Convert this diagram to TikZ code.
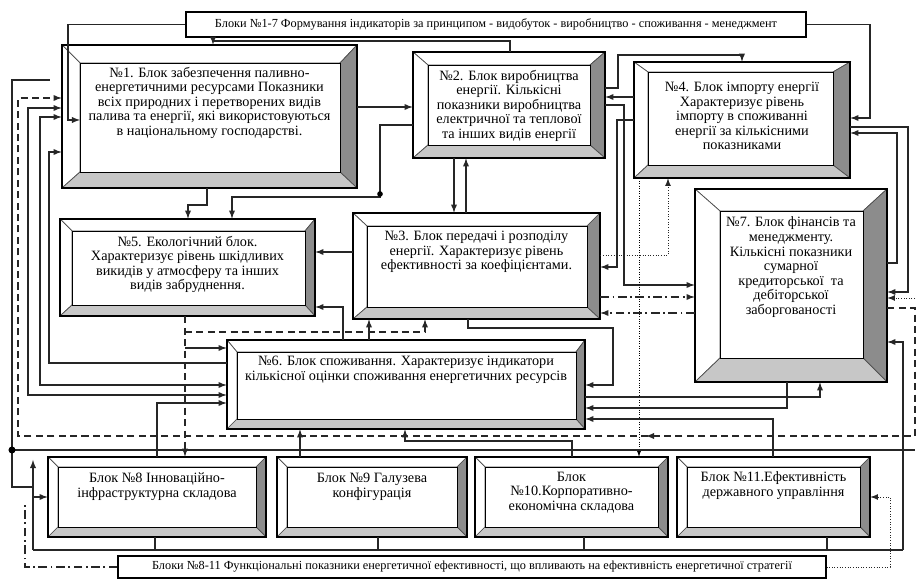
\documentclass[tikz,border=0pt]{standalone}
\usepackage{fontspec}
\setmainfont{Liberation Serif}
\usetikzlibrary{calc,arrows,fit}

\begin{document}
\begin{tikzpicture}[x=0.02cm,y=-0.02cm,>=latex,
    line/.style={line width=.6pt,draw=black!85},
    arr/.style={line,->},
    darr/.style={line,<->},
    dline/.style={line,dash pattern=on 4pt off 2.5pt},
    ddline/.style={line,dash pattern=on 5pt off 2pt on 1pt off 2pt},
    fdline/.style={line width=.5pt,draw=black!85,densely dotted},
    lite/.style={draw=black!70,line width=.4pt,fill=white},
    dark/.style={draw=black!70,line width=.4pt,fill=black!45},
    mid/.style={draw=black!70,line width=.4pt,fill=black!22},
    btext/.style={align=center,inner sep=0pt,font=\fontsize{8.1}{8.3}\selectfont},
    htext/.style={inner sep=0pt,font=\fontsize{7}{8}\selectfont},
    hbox/.style={draw,line width=.6pt,inner sep=0pt,fill=white}]

  \useasboundingbox (0,0) rectangle (917,580);

  %%%% Bevelled blocks %%%%
  \foreach \n/\xa/\ya/\xb/\yb/\lw/\tw/\rw/\bw in {
      b1/62/45/357/188/18/18/17/16, b2/413/52/605/158/15/13/15/13,
      b4/634/62/850/178/14/10/17/13, b5/60/219/315/316/12/12/10/11,
      b3/353/213/600/319/14/13/13/12, b7/695/189/887/382/25/22/24/24,
      b6/227/340/585/429/10/12/9/10, b8/48/457/266/537/10/10/10/10,
      b9/277/457/467/537/10/10/10/10, b10/475/457/668/537/10/10/10/10,
      b11/677/457/870/537/10/10/10/10}{
    %% top, left, right and bottom faces
    \filldraw[lite] (\xa,\ya) -- (\xb,\ya) -- (\xb-\rw,\ya+\tw) -- (\xa+\lw,\ya+\tw) -- cycle;
    \filldraw[lite] (\xa,\ya) -- (\xa+\lw,\ya+\tw) -- (\xa+\lw,\yb-\bw) -- (\xa,\yb) -- cycle;
    \filldraw[dark] (\xb,\ya) -- (\xb,\yb) -- (\xb-\rw,\yb-\bw) -- (\xb-\rw,\ya+\tw) -- cycle;
    \filldraw[mid] (\xa,\yb) -- (\xb,\yb) -- (\xb-\rw,\yb-\bw) -- (\xa+\lw,\yb-\bw) -- cycle;
    \filldraw[fill=white,line width=.5pt] (\xa+\lw,\ya+\tw) rectangle (\xb-\rw,\yb-\bw);
    \draw[line width=.7pt] (\xa,\ya) rectangle (\xb,\yb);
    %% name the block
    \coordinate (\n-nw) at (\xa,\ya);
    \coordinate (\n-se) at (\xb,\yb);
    \node[fit=(\n-nw)(\n-se),inner sep=0pt] (\n) {};
  }

  %% Header boxes
  \node[hbox,fit={(186,12)(806,37)}] (hdrA) {};
  \node[htext] (hdrAtxt) at (hdrA.center) {Блоки №1-7 Формування індикаторів за принципом - видобуток - виробництво - споживання - менеджмент};
  \node[hbox,fit={(118,556)(826,578)}] (hdrB) {};
  \node[htext] (hdrBtxt) at (hdrB.center) {Блоки №8-11 Функціональні показники енергетичної ефективності, що впливають на ефективність енергетичної стратегії};

  %% Block texts
  \node[btext,anchor=north] (t1) at ($(b1.north)+(0,22)$) {№1. Блок забезпечення паливно-\\енергетичними ресурсами Показники\\всіх природних і перетворених видів\\палива та енергії, які використовуються\\в національному господарстві.};
  \node[btext,anchor=north] (t2) at ($(b2.north)+(0,18)$) {№2. Блок виробництва\\енергії. Кількісні\\показники виробництва\\електричної та теплової\\та інших видів енергії};
  \node[btext,anchor=north] (t3) at ($(b3.north)+(0,18)$) {№3. Блок передачі і розподілу\\енергії. Характеризує рівень\\ефективності за коефіцієнтами.};
  \node[btext,anchor=north] (t4) at ($(b4.north)+(0,20)$) {№4. Блок імпорту енергії\\Характеризує рівень\\імпорту в споживанні\\енергії за кількісними\\показниками};
  \node[btext,anchor=north] (t5) at ($(b5.north)+(0,17)$) {№5. Екологічний блок.\\Характеризує рівень шкідливих\\викидів у атмосферу та інших\\видів забруднення.};
  \node[btext,anchor=north] (t6) at ($(b6.north)+(0,16)$) {№6. Блок споживання. Характеризує індикатори\\кількісної оцінки споживання енергетичних ресурсів};
  \node[btext,anchor=north] (t7) at ($(b7.north)+(0,28)$) {№7. Блок фінансів та\\менеджменту.\\Кількісні показники\\сумарної\\кредиторської~ та\\дебіторської\\заборгованості};
  \node[btext,anchor=north] (t8) at ($(b8.north)+(0,16)$) {Блок №8 Інноваційно-\\інфраструктурна складова};
  \node[btext,anchor=north] (t9) at ($(b9.north)+(0,16)$) {Блок №9 Галузева\\конфігурація};
  \node[btext,anchor=north] (t10) at ($(b10.north)+(0,15)$) {Блок\\№10.Корпоративно-\\економічна складова};
  \node[btext,anchor=north] (t11) at ($(b11.north)+(0,15)$) {Блок №11.Ефективність\\державного управління};

  %%%% Connectors %%%%
  %% from the headers
  \draw[arr] (hdrA.west) -| (68,120) -- (80,120);
  \draw[arr] (hdrA.east) -| (870,118) -- (b4.east |- 0,118);
  \draw[arr] (b2.north -| 510,0) -- (510,41) -- (213,41) -- (b1.north -| 213,0);
  \draw[ddline] (hdrB.west) -- (25,567) -- (25,505);
  \draw[fdline,->] (hdrB.east) -- (890,567) -- (890,497) -- (b11.east |- 0,497);

  %% upper blocks
  \draw[arr] (b1.east |- 0,107) -- (b2.west |- 0,107);
  \draw[arr] (b2.west |- 0,125) -- (380,125) -- (380,197) -- (232,197) -- (b5.north -| 232,0);
  \fill (380,194) circle (1.6pt);
  \draw[arr] (b1.south -| 207,0) -- (207,205) -- (188,205) -- (b5.north -| 188,0);
  \draw[arr] (b2.south -| 454,0) -- (b3.north -| 454,0);
  \draw[arr] (b3.north -| 466,0) -- (b2.south -| 466,0);
  \draw[arr] (b2.east |- 0,88) -- (618,88) -- (618,55) -- (742,55) -- (b4.north -| 742,0);
  \draw[arr] (b4.west |- 0,97) -- (b2.east |- 0,97);
  \draw[arr] (b2.east |- 0,105) -- (624,105) -- (624,285) -- (b7.west |- 0,285);
  \draw[arr] (b4.west |- 0,120) -- (617,120) -- (617,267) -- (b3.east |- 0,267);
  \draw[fdline,->] (b3.east |- 0,255) -- (668,255) -- (b4.south -| 668,0);
  \draw[line width=.4pt,densely dotted,->] (b4.south -| 639,0) -- (b10.north -| 639,0);
  \draw[ddline,->] (b3.east |- 0,297) -- (b7.west |- 0,297);
  \draw[ddline,->] (b7.west |- 0,313) -- (b3.east |- 0,313);
  \draw[arr] (b4.east |- 0,127) -- (908,127) -- (908,292) -- (b7.east |- 0,292);
  \draw[arr] (b7.east |- 0,263) -- (897,263) -- (897,133) -- (b4.east |- 0,133);
  \draw[fdline,->] (915,298) -- (b7.east |- 0,298);

  %% middle blocks
  \draw[arr] (b3.west |- 0,252) -- (b5.east |- 0,252);
  \draw[arr] (b6.north -| 343,0) -- (343,307) -- (b5.east |- 0,307);
  \draw[arr] (b6.north -| 369,0) -- (b3.south -| 369,0);
  \draw[arr] (b3.south -| 468,0) -- (468,328) -- (613,328) -- (613,385) -- (b6.east |- 0,385);
  \draw[dline,->] (b5.south -| 185,0) -- (b8.north -| 185,0);
  \draw[dline,->] (185,332) -- (425,332) -- (b3.south -| 425,0);
  \draw[arr] (185,348) -- (b6.west |- 0,348);

  %% left side loops
  \draw[arr] (b6.west |- 0,363) -- (49,363) -- (49,152) -- (b1.west |- 0,152);
  \draw[darr] (b1.west |- 0,117) -- (40,117) -- (40,385) -- (b6.west |- 0,385);
  \draw[darr] (b1.west |- 0,108) -- (28,108) -- (28,395) -- (b6.west |- 0,395);
  \draw[dline,->] (b7.east |- 0,308) -- (915,308) -- (915,436) -- (18,436) -- (18,98) -- (b1.west |- 0,98);
  \draw[line,->] (656,436) -- (646,436);

  %% block 6 and the lower row
  \draw[arr] (b8.north -| 157,0) -- (157,403) -- (b6.west |- 0,403);
  \draw[arr] (b9.north -| 300,0) -- (b6.south -| 300,0);
  \draw[arr] (b10.north -| 572,0) -- (572,441) -- (405,441) -- (b6.south -| 405,0);
  \draw[arr] (b6.east |- 0,397) -- (820,397) -- (b7.south -| 820,0);
  \draw[arr] (b7.south -| 787,0) -- (787,408) -- (b6.east |- 0,408);
  \draw[arr] (b11.north -| 773,0) -- (773,419) -- (b6.east |- 0,419);

  %% bottom bus
  \foreach \bk/\bx in {b8/155,b9/378,b10/584,b11/827}{
    \draw[line] (\bk.south -| \bx,0) -- (\bx,550);
  }
  \draw[line] (33,550) -- (903,550);
  \draw[arr] (903,550) -- (903,342) -- (b7.east |- 0,342);
  \draw[arr] (33,550) -- (33,460);
  \draw[line] (12,450) -- (915,450);
  \draw[line] (12,450) -- (12,80) -- (50,80);
  \draw[line] (12,450) -- (12,487) -- (33,487);
  \draw[arr] (33,497) -- (b8.west |- 0,497);
  \fill (12,450) circle (2pt);

\end{tikzpicture}
\end{document}
